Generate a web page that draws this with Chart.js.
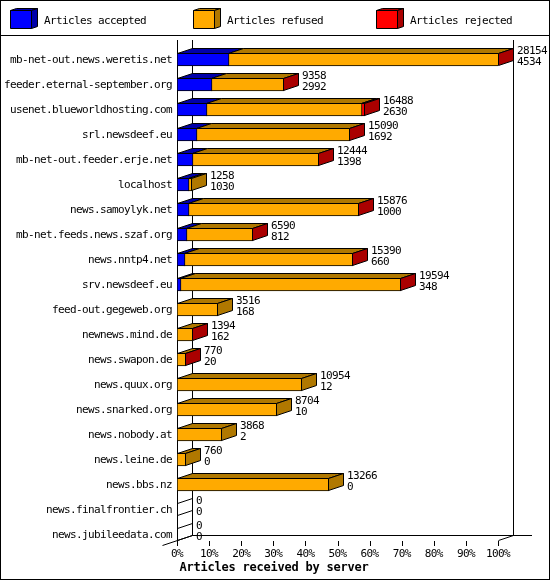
<!DOCTYPE html>
<html lang="en">

<head>
    <meta charset="UTF-8">
    <title>Articles received by server</title>
    <style>
        body { margin: 0; background: #fff; }
        canvas { display: block; }
    </style>
</head>

<body>
    <canvas id="myChart" width="550" height="580"></canvas>
    <script src="https://cdn.jsdelivr.net/npm/chart.js@4"></script>
    <script>
        const servers = [
            'mb-net-out.news.weretis.net', 'feeder.eternal-september.org', 'usenet.blueworldhosting.com',
            'srl.newsdeef.eu', 'mb-net-out.feeder.erje.net', 'localhost', 'news.samoylyk.net',
            'mb-net.feeds.news.szaf.org', 'news.nntp4.net', 'srv.newsdeef.eu', 'feed-out.gegeweb.org',
            'newnews.mind.de', 'news.swapon.de', 'news.quux.org', 'news.snarked.org', 'news.nobody.at',
            'news.leine.de', 'news.bbs.nz', 'news.finalfrontier.ch', 'news.jubileedata.com'
        ];
        const totals = [28154, 9358, 16488, 15090, 12444, 1258, 15876, 6590, 15390, 19594, 3516, 1394, 770, 10954, 8704, 3868, 760, 13266, 0, 0];
        const accepted = [4534, 2992, 2630, 1692, 1398, 1030, 1000, 812, 660, 348, 168, 162, 20, 12, 10, 2, 0, 0, 0, 0];
        const refused = [23590, 6346, 13588, 13368, 11026, 228, 14856, 5758, 14710, 19216, 3348, 1222, 745, 10942, 8694, 3866, 760, 13266, 0, 0];
        const rejected = [30, 20, 270, 30, 20, 0, 20, 20, 20, 30, 0, 10, 5, 0, 0, 0, 0, 0, 0, 0];
        const seriesNames = ['Articles accepted', 'Articles refused', 'Articles rejected'];
        const axisTitle = 'Articles received by server';

        const frontColors = ['#0000ff', '#ffaa00', '#ff0000'];
        const darkColors = ['#0000aa', '#b07800', '#aa0000'];
        const legendBoxX = [10, 193, 376];
        const legendTextX = [44, 227, 410];

        const maxTotal = Math.max(...totals);
        const smallFont = '11px "DejaVu Sans Mono"';
        const depthX = 15;
        const depthY = 5;

        // bars are percent of the busiest server, zero means no segment
        function toPercent(list) {
            return list.map(v => v > 0 ? v / maxTotal * 100 : null);
        }

        function polygon(ctx, points, fill) {
            ctx.beginPath();
            points.forEach((p, i) => i ? ctx.lineTo(p[0], p[1]) : ctx.moveTo(p[0], p[1]));
            ctx.closePath();
            if (fill) {
                ctx.fillStyle = fill;
                ctx.fill();
            }
            ctx.strokeStyle = '#000';
            ctx.lineWidth = 1;
            ctx.stroke();
        }

        function line(ctx, x1, y1, x2, y2) {
            ctx.beginPath();
            ctx.moveTo(x1, y1);
            ctx.lineTo(x2, y2);
            ctx.strokeStyle = '#000';
            ctx.lineWidth = 1;
            ctx.stroke();
        }

        // Frame, legend, back wall and floor
        const backdrop = {
            id: 'backdrop',
            beforeDraw(chart) {
                const ctx = chart.ctx;
                // 11px glyphs squeezed to the 6px cell of the original
                ctx.letterSpacing = '-0.62px';
                ctx.save();
                ctx.fillStyle = '#fff';
                ctx.fillRect(0, 0, 550, 580);
                ctx.strokeStyle = '#000';
                ctx.strokeRect(0.5, 0.5, 549, 579);
                line(ctx, 0, 35.5, 550, 35.5);

                seriesNames.forEach((name, i) => {
                    const x = legendBoxX[i] + 0.5;
                    polygon(ctx, [[x, 10.5], [x + 6, 8.5], [x + 27, 8.5], [x + 21, 10.5]], darkColors[i]);
                    polygon(ctx, [[x + 21, 10.5], [x + 27, 8.5], [x + 27, 26.5], [x + 21, 28.5]], darkColors[i]);
                    polygon(ctx, [[x, 10.5], [x + 21, 10.5], [x + 21, 28.5], [x, 28.5]], frontColors[i]);
                    ctx.fillStyle = '#000';
                    ctx.font = smallFont;
                    ctx.textAlign = 'left';
                    ctx.textBaseline = 'middle';
                    ctx.fillText(name, legendTextX[i], 21);
                });

                const xs = chart.scales.x;
                const left = Math.round(xs.getPixelForValue(0)) + 0.5;
                const right = Math.round(xs.getPixelForValue(100)) + 0.5;
                line(ctx, left, 40, left, 541);
                line(ctx, left + depthX, 40, left + depthX, 535.5);
                line(ctx, right + depthX, 40, right + depthX, 535.5);
                line(ctx, left + depthX, 535.5, 532, 535.5);
                line(ctx, left - depthX, 545.5, left + depthX, 535.5);
                line(ctx, right, 540.5, right + depthX, 535.5);
                xs.ticks.forEach(t => {
                    const x = Math.round(xs.getPixelForValue(t.value)) + 0.5;
                    line(ctx, x, 541, x, 546);
                });

                ctx.letterSpacing = '-0.22px';
                ctx.font = 'bold 12px "DejaVu Sans Mono"';
                ctx.textAlign = 'center';
                ctx.fillStyle = '#000';
                ctx.fillText(axisTitle, 274, 568);
                ctx.restore();
            }
        };

        // Snap bars onto whole pixels so neighbouring segments share one outline.
        // Segments too thin to show any colour merge into their neighbour.
        const snapBars = {
            id: 'snapBars',
            afterDatasetsUpdate(chart) {
                const left = Math.round(chart.scales.x.getPixelForValue(0));
                servers.forEach((name, i) => {
                    let cursor = left;
                    let previous = null;
                    chart.data.datasets.forEach((ds, d) => {
                        if (ds.data[i] === null) return;
                        const el = chart.getDatasetMeta(d).data[i];
                        const end = Math.floor(el.x + 0.001);
                        el.hidden = end - cursor <= 2;
                        el.base = cursor;
                        if (!el.hidden) {
                            cursor = end;
                            previous = el;
                        } else if (previous) {
                            cursor = end;
                            previous.x = end + 1;
                            el.base = end;
                        }
                        el.x = cursor + 1;
                    });
                });
            }
        };

        // Top faces, end faces and the two number labels
        const depth3d = {
            id: 'depth3d',
            afterDatasetsDraw(chart) {
                const ctx = chart.ctx;
                const xs = chart.scales.x;
                const ys = chart.scales.y;
                ctx.save();
                servers.forEach((name, i) => {
                    const mid = ys.getPixelForValue(i);
                    const top = mid - 6;
                    const bottom = mid + 6;
                    let endX = Math.round(xs.getPixelForValue(0));
                    let endColor = null;
                    chart.data.datasets.forEach((ds, d) => {
                        if (ds.data[i] === null) return;
                        const el = chart.getDatasetMeta(d).data[i];
                        endX = el.x - 1;
                        endColor = darkColors[d];
                        if (el.hidden) return;
                        const x0 = el.base + 0.5;
                        const x1 = el.x - 0.5;
                        polygon(ctx, [[x0, top], [x0 + depthX, top - depthY], [x1 + depthX, top - depthY], [x1, top]], darkColors[d]);
                    });
                    const ex = endX + 0.5;
                    polygon(ctx, [[ex, top], [ex + depthX, top - depthY], [ex + depthX, bottom - depthY], [ex, bottom]], endColor);

                    ctx.fillStyle = '#000';
                    ctx.font = smallFont;
                    ctx.textAlign = 'left';
                    ctx.textBaseline = 'middle';
                    ctx.fillText(String(totals[i]), endX + depthX + 4, mid - 8);
                    ctx.fillText(String(accepted[i]), endX + depthX + 4, mid + 3);
                });
                ctx.restore();
            }
        };

        const myChart = new Chart(document.getElementById('myChart'), {
            type: 'bar',
            data: {
                labels: servers,
                datasets: seriesNames.map((name, i) => ({
                    label: name,
                    data: toPercent([accepted, refused, rejected][i]),
                    backgroundColor: frontColors[i],
                    borderColor: '#000',
                    borderWidth: 1,
                    borderSkipped: false,
                    barThickness: 13
                }))
            },
            options: {
                indexAxis: 'y',
                responsive: false,
                animation: false,
                devicePixelRatio: 1,
                layout: { padding: { top: 47, right: 52, bottom: 0, left: 0 } },
                scales: {
                    x: {
                        stacked: true,
                        min: 0,
                        max: 100,
                        grid: { display: false, drawTicks: false },
                        border: { display: false },
                        afterFit(scale) { scale.height = 33; },
                        ticks: {
                            stepSize: 10,
                            maxRotation: 0,
                            autoSkip: false,
                            padding: 1,
                            color: '#000',
                            font: { family: 'DejaVu Sans Mono', size: 11 },
                            callback: v => v + '%'
                        }
                    },
                    y: {
                        stacked: true,
                        grid: { display: false, drawTicks: false },
                        border: { display: false },
                        afterFit(scale) { scale.width = 177; },
                        ticks: {
                            autoSkip: false,
                            padding: 5,
                            labelOffset: 1,
                            color: '#000',
                            font: { family: 'DejaVu Sans Mono', size: 11 }
                        }
                    }
                },
                plugins: {
                    legend: { display: false },
                    tooltip: { enabled: false }
                }
            },
            plugins: [backdrop, snapBars, depth3d]
        });
    </script>
</body>

</html>
